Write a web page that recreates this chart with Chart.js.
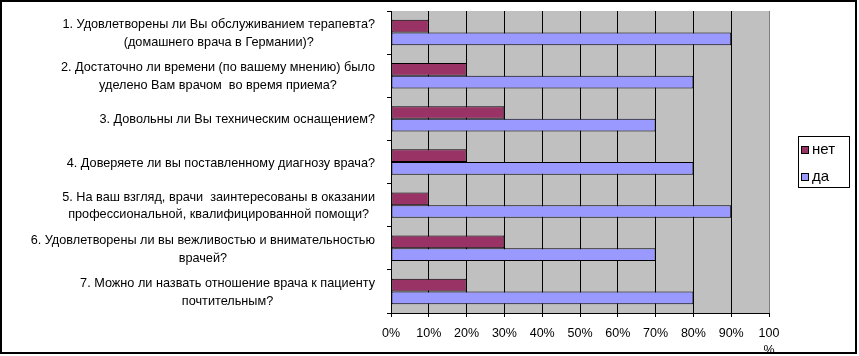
<!DOCTYPE html>
<html>
<head>
<meta charset="utf-8">
<script src="https://cdn.jsdelivr.net/npm/chart.js@4"></script>
<style>
  body { margin: 0; background: #fff; }
  #wrap { width: 859px; height: 356px; }
</style>
</head>
<body>
<div id="wrap"><canvas id="surveyChart"></canvas></div>
<script>
const questions = [
  ["1. Удовлетворены ли Вы обслуживанием терапевта?", "(домашнего врача в Германии)?"],
  ["2. Достаточно ли времени (по вашему мнению) было", "уделено Вам врачом  во время приема?"],
  ["3. Довольны ли Вы техническим оснащением?"],
  ["4. Доверяете ли вы поставленному диагнозу врача?"],
  ["5. На ваш взгляд, врачи  заинтересованы в оказании", "профессиональной, квалифицированной помощи?"],
  ["6. Удовлетворены ли вы вежливостью и внимательностью", "врачей?"],
  ["7. Можно ли назвать отношение врача к пациенту", "почтительным?"]
];
const noValues = [10, 20, 30, 20, 10, 30, 20];
const yesValues = [90, 80, 70, 80, 90, 70, 80];
const seriesNames = ["нет", "да"];
const percentTicks = [0, 10, 20, 30, 40, 50, 60, 70, 80, 90, 100];

const FONT = "'Liberation Sans', Arial, sans-serif";

// grey plot background, question labels, legend box and outer frame
const excelLook = {
  id: "excelLook",
  beforeDraw(chart) {
    const { ctx, chartArea: a } = chart;
    ctx.save();
    ctx.fillStyle = "#C0C0C0";
    ctx.fillRect(a.left, a.top, a.right - a.left, a.bottom - a.top);
    ctx.restore();
  },
  afterDraw(chart) {
    const ctx = chart.ctx;
    const yScale = chart.scales.y;
    ctx.save();
    ctx.fillStyle = "#000";
    ctx.font = "12.7px " + FONT;
    ctx.textAlign = "center";
    ctx.textBaseline = "middle";
    const lineH = 17.5;
    chart.data.labels.forEach((lines, i) => {
      const cy = yScale.getPixelForValue(i) + 1;
      let w = 0;
      lines.forEach(l => { w = Math.max(w, ctx.measureText(l).width); });
      const cx = 375 - w / 2;
      const y0 = cy - (lines.length - 1) * lineH / 2;
      lines.forEach((l, k) => ctx.fillText(l, cx, y0 + k * lineH));
    });

    // legend
    ctx.strokeStyle = "#000";
    ctx.lineWidth = 1;
    ctx.strokeRect(798.5, 136.5, 51, 51);
    ctx.font = "15px " + FONT;
    ctx.textAlign = "left";
    chart.data.datasets.forEach((ds, i) => {
      const y = 146 + i * 27;
      ctx.fillStyle = ds.backgroundColor;
      ctx.fillRect(801.5, y + 0.5, 7, 7);
      ctx.strokeRect(801.5, y + 0.5, 7, 7);
      ctx.fillStyle = "#000";
      ctx.fillText(ds.label, 812, y + 4);
    });

    // outer frame
    ctx.lineWidth = 2;
    ctx.strokeRect(1, 1, 855, 352);
    ctx.restore();
  }
};

const ctx = document.getElementById("surveyChart").getContext("2d");
const chart = new Chart(ctx, {
  type: "bar",
  data: {
    labels: questions,
    datasets: [
      {
        label: seriesNames[0],
        data: noValues,
        backgroundColor: "#993366",
        borderColor: "#000",
        borderWidth: 1,
        borderSkipped: false
      },
      {
        label: seriesNames[1],
        data: yesValues,
        backgroundColor: "#9999FF",
        borderColor: "#000",
        borderWidth: 1,
        borderSkipped: false
      }
    ]
  },
  options: {
    indexAxis: "y",
    responsive: true,
    maintainAspectRatio: false,
    animation: false,
    devicePixelRatio: 1,
    categoryPercentage: 0.59,
    barPercentage: 1,
    layout: { padding: { top: 11, right: 90, left: 0, bottom: 0 } },
    plugins: {
      legend: { display: false },
      tooltip: { enabled: false }
    },
    scales: {
      x: {
        min: 0,
        max: 100,
        afterBuildTicks(scale) {
          scale.ticks = percentTicks.map(v => ({ value: v }));
        },
        afterFit(scale) { scale.height = 43; },
        border: { color: "#000", width: 1 },
        grid: {
          color: c => (c.tick && c.tick.value === 100 ? "#808080" : "#000"),
          tickColor: "#000",
          tickLength: 4
        },
        ticks: {
          color: "#000",
          padding: 8,
          maxRotation: 0,
          autoSkip: false,
          font: { family: FONT, size: 12.5, lineHeight: 1.35 },
          callback: v => (v === 100 ? ["100", "%"] : v + "%")
        }
      },
      y: {
        type: "category",
        offset: true,
        afterFit(scale) { scale.width = 391; },
        border: { color: "#000", width: 1 },
        grid: {
          offset: true,
          drawOnChartArea: false,
          color: "#000",
          tickLength: 4
        },
        ticks: { display: false }
      }
    }
  },
  plugins: [excelLook]
});
</script>
</body>
</html>
